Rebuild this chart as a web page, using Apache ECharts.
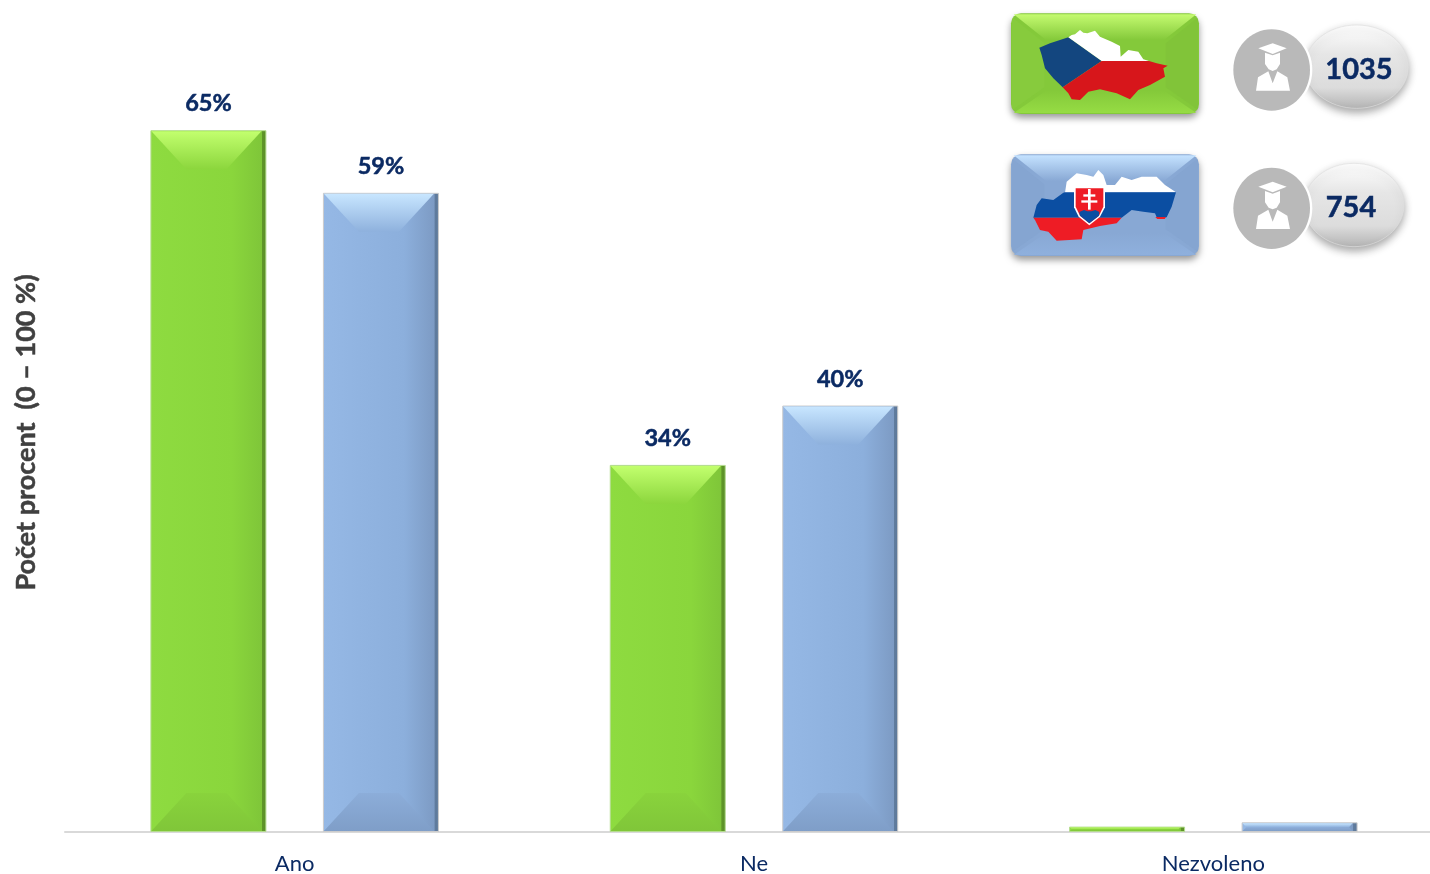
<!DOCTYPE html>
<html><head><meta charset="utf-8">
<style>html,body{margin:0;padding:0;background:#fff}#c{width:1430px;height:874px}</style>
<script src="https://cdn.jsdelivr.net/npm/echarts@6/dist/echarts.min.js"></script>
</head><body><div id="c"></div>
<script>
const categories = ['Ano', 'Ne', 'Nezvoleno'];
const czValues = [65, 34, 0.5];
const skValues = [59.2, 39.5, 0.9];
const czCount = '1035';
const skCount = '754';
const yTitle = 'Počet procent  (0 – 100 %)';

const NAVY = '#0b2a63', FONT = 'Lato, Carlito, "Open Sans", sans-serif';
const BAR_W = 116, OFFSET = 86.25;
const G = {
  body: [[0,'#8edb40'],[0.7,'#8ad63c'],[0.96,'#7fc639'],[0.965,'#5f9529'],[1,'#5b8f28']],
  top: ['#c2ff6e','#8cd63d'], bottom: ['#89d33c','#80c639'], stroke:'#b5dc90'
};
const B = {
  body: [[0,'#95b8e5'],[0.7,'#8cafdc'],[0.96,'#7d9bc4'],[0.965,'#607c9e'],[1,'#5d7899']],
  top: ['#c8e6ff','#8eb1dd'], bottom: ['#8cadd9','#7f9ec8'], stroke:'#cccccc'
};
const hGrad = s => new echarts.graphic.LinearGradient(0,0,1,0,s.map(a=>({offset:a[0],color:a[1]})));
const vGrad = (a,b) => new echarts.graphic.LinearGradient(0,0,0,1,[{offset:0,color:a},{offset:1,color:b}]);

function barSeries(name, data, s) {
  return {
    type:'bar', name, data, barWidth:BAR_W, barGap:'48.7%',
    itemStyle:{color:hGrad(s.body), borderColor:s.stroke, borderWidth:1},
    label:{show:true, position:'top', distance:14.5, color:NAVY, fontFamily:FONT, fontWeight:'bold', fontSize:23.5,
      textBorderColor:NAVY, textBorderWidth:0.5,
      formatter:p => p.value >= 1 ? Math.round(p.value)+'%' : ''}
  };
}
function bevelSeries(data, s, sign) {
  return {
    type:'custom', silent:true, z:5, tooltip:{show:false},
    data:data.map((v,i)=>[i,v]),
    renderItem(params, api) {
      const base = api.coord([api.value(0),0]), tp = api.coord([api.value(0),api.value(1)]);
      const x0 = base[0]+sign*OFFSET-BAR_W/2+1, x1 = x0+BAR_W-2, y0 = tp[1]+1, y1 = base[1]-1;
      const h = Math.min(38,(y1-y0)/2), ins = h*0.92;
      return {type:'group',children:[
        {type:'polygon',shape:{points:[[x0,y0],[x1-4,y0],[x1-4-ins,y0+h],[x0+ins,y0+h]]},style:{fill:vGrad(s.top[0],s.top[1])}},
        {type:'polygon',shape:{points:[[x0,y1],[x1-4,y1],[x1-4-ins,y1-h],[x0+ins,y1-h]]},style:{fill:vGrad(s.bottom[0],s.bottom[1])}}
      ]};
    }
  };
}

/* Decorative badges, in 3x zoom coordinates of the top-right panel */
function bevelBox(x0,y0,x1,y1,main,top,bot,left,right){
  const r=30;
  return [
    {type:'rect',shape:{x:x0,y:y0,width:x1-x0,height:y1-y0,r},style:{fill:main,shadowBlur:7,shadowOffsetY:4,shadowColor:'rgba(0,0,0,0.4)'}},
    {type:'polygon',shape:{points:[[x0+8,y0+3],[x1-8,y0+3],[x1-105,y0+80],[x0+105,y0+80]]},style:{fill:vGrad(top,main)}},
    {type:'polygon',shape:{points:[[x0+8,y1-3],[x1-8,y1-3],[x1-105,y1-70],[x0+105,y1-70]]},style:{fill:vGrad(main,bot)}},
    {type:'polygon',shape:{points:[[x0+3,y0+12],[x0+100,y0+90],[x0+100,y1-80],[x0+3,y1-12]]},style:{fill:left,opacity:.25}},
    {type:'polygon',shape:{points:[[x1-3,y0+12],[x1-100,y0+90],[x1-100,y1-80],[x1-3,y1-12]]},style:{fill:right,opacity:.25}}
  ];
}
const poly=(points,fill)=>({type:'polygon',shape:{points},style:{fill}});
const czFlag=[
  poly([[205,112],[305,183],[188,262],[160,235],[135,205],[125,165],[118,143],[150,130],[180,120]],'#13467f'),
  poly([[205,112],[215,105],[225,103],[240,90],[250,98],[262,100],[285,92],[300,110],[335,125],[360,138],[362,170],[385,150],[415,155],[430,178],[447,183],[305,183]],'#ffffff'),
  poly([[305,183],[447,183],[470,190],[503,197],[490,205],[495,230],[450,255],[415,270],[390,298],[350,280],[300,268],[265,275],[240,300],[215,298],[205,280],[188,262]],'#d7161b')
];
const skFlag=[
  poly([[195,578],[200,545],[230,520],[260,525],[280,530],[295,510],[310,525],[320,555],[345,555],[365,530],[395,540],[425,530],[470,530],[495,555],[528,577]],'#ffffff'),
  poly([[195,577],[528,577],[515,620],[500,652],[470,652],[465,640],[430,635],[395,630],[365,653],[100,653],[110,615],[125,595],[160,600],[190,578]],'#0b4ea2'),
  poly([[100,653],[365,653],[350,670],[300,678],[250,690],[245,718],[170,722],[145,695],[120,690],[105,660]],'#ee1c25'),
  poly([[466,651],[498,651],[494,657],[472,657]],'#ee1c25'),
  poly([[222,560],[315,560],[315,622],[300,650],[268,676],[236,650],[222,622]],'#ffffff'),
  poly([[227,565],[310,565],[310,620],[297,647],[268,670],[240,647],[227,620]],'#ee1c25'),
  poly([[240,647],[238,636],[252,630],[262,634],[274,634],[286,630],[298,636],[297,647],[268,670]],'#0b4ea2'),
  {type:'rect',shape:{x:264,y:567,width:8,height:62},style:{fill:'#fff'}},
  {type:'rect',shape:{x:250,y:583,width:36,height:7},style:{fill:'#fff'}},
  {type:'rect',shape:{x:244,y:601,width:48,height:7},style:{fill:'#fff'}}
];
function badge(cy, ecx, erx, ery, ecy){
  const d=cy-210;
  const grad=new echarts.graphic.LinearGradient(0,0,0,1,[{offset:0,color:'#ffffff'},{offset:.35,color:'#e6e6e6'},{offset:.75,color:'#dcdcdc'},{offset:1,color:'#b4b4b4'}]);
  return [
    {type:'ellipse',shape:{cx:ecx,cy:ecy,rx:erx,ry:ery},style:{fill:grad,stroke:'#e0e0e0',lineWidth:2,shadowBlur:8,shadowOffsetY:4,shadowColor:'rgba(0,0,0,0.35)'}},
    {type:'ellipse',shape:{cx:815,cy,rx:122,ry:128},style:{fill:'#ffffff'}},
    {type:'ellipse',shape:{cx:815,cy,rx:115,ry:122},style:{fill:'#b9b9b9'}},
    poly([[775,145+d],[818,130+d],[860,145+d],[818,162+d]],'#ffffff'),
    poly([[795,158+d],[818,166+d],[840,158+d],[840,192+d],[830,208+d],[818,213+d],[806,208+d],[795,192+d]],'#ffffff'),
    poly([[768,272+d],[774,232+d],[805,214+d],[818,250+d],[832,214+d],[862,232+d],[870,272+d]],'#ffffff')
  ];
}
const panel={type:'group',x:1000,y:0,scaleX:1/3,scaleY:1/3,silent:true,children:[
  ...bevelBox(33,40,597,342,'#84c93a','#c4fa70','#96dc44','#90d548','#78b836'),
  ...czFlag,
  ...bevelBox(33,463,597,768,'#88a8d4','#c4e2ff','#8fb0dd','#7d9dc8','#7c9cc8'),
  ...skFlag,
  ...badge(210,1070,155,125,200),
  ...badge(625,1062,150,125,615)
]};
const countText=(x,y,text)=>({type:'text',x,y,silent:true,style:{text,fill:NAVY,stroke:NAVY,lineWidth:0.5,font:'bold 29px '+FONT,align:'center',verticalAlign:'middle'}});

const chart=echarts.init(document.getElementById('c'),null,{renderer:'canvas'});
chart.setOption({
  animation:false, backgroundColor:'#fff',
  grid:{left:65,right:-13,top:33,bottom:42,outerBoundsMode:'none',containLabel:false},
  xAxis:{type:'category',data:categories,
    axisLine:{lineStyle:{color:'#d9d9d9',width:2}},axisTick:{show:false},
    axisLabel:{color:NAVY,fontFamily:FONT,fontSize:22,margin:21}},
  yAxis:{type:'value',min:0,max:74,splitLine:{show:false},axisLine:{show:false},axisTick:{show:false},axisLabel:{show:false},
    name:yTitle,nameLocation:'middle',nameGap:25,nameRotate:90,
    nameTextStyle:{color:'#404040',fontFamily:FONT,fontWeight:'bold',fontSize:27,textBorderColor:'#404040',textBorderWidth:0.5}},
  series:[barSeries('CZ',czValues,G),barSeries('SK',skValues,B),bevelSeries(czValues,G,-1),bevelSeries(skValues,B,1)],
  graphic:[panel,countText(1359,70,czCount),countText(1351,208,skCount)]
});
</script></body></html>
